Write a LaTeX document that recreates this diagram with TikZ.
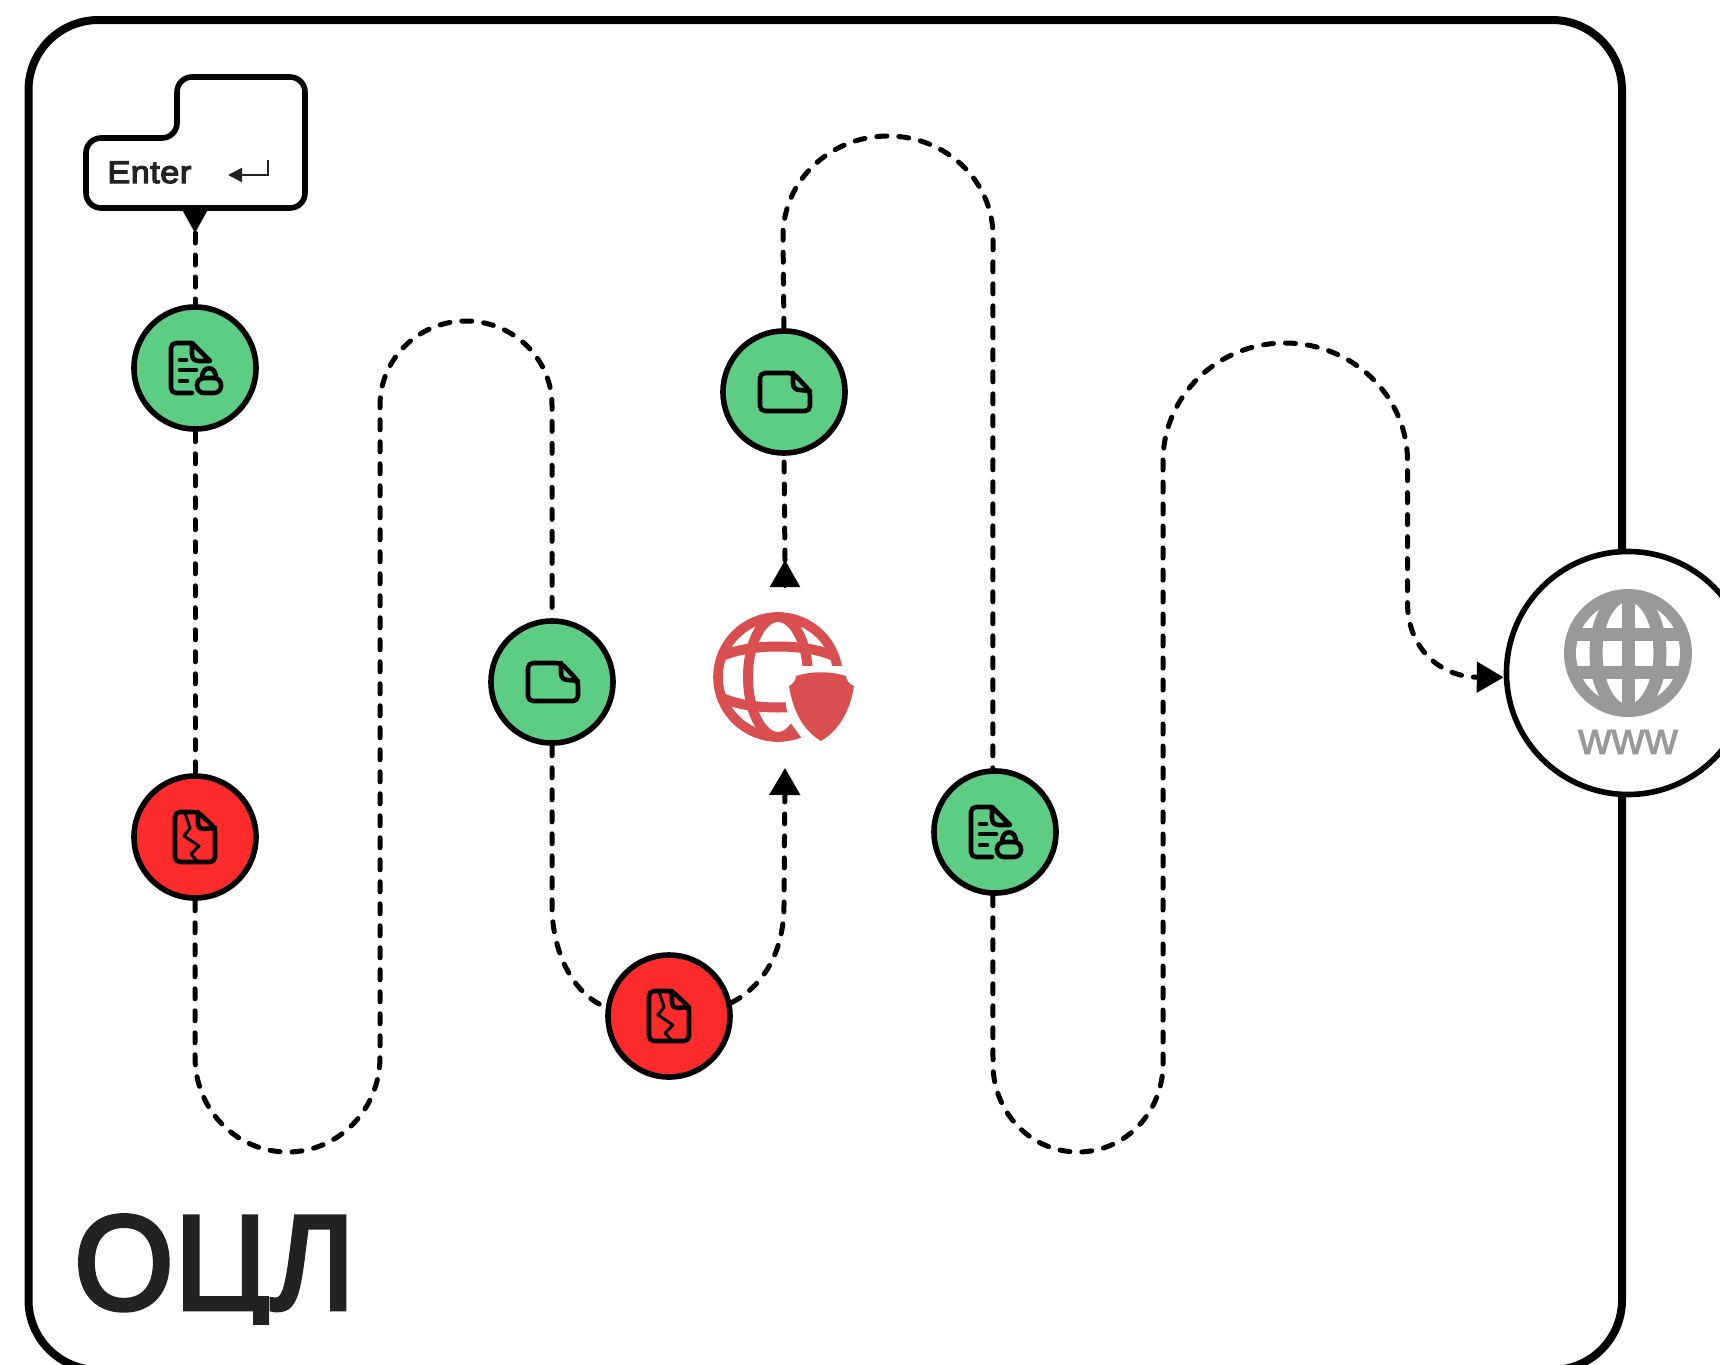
\documentclass[tikz,border=0pt]{standalone}
\usepackage{fontspec}
\setmainfont{Liberation Sans}
\newfontfamily\heavyfont[FakeBold=3.5,FakeStretch=0.95,LetterSpace=1.2]{Liberation Sans}
\newfontfamily\midfont[FakeBold=4,FakeStretch=1.1,LetterSpace=1.5]{Liberation Sans}
\newfontfamily\lightfont[FakeBold=1.8,FakeStretch=1.02]{Liberation Sans}
\usetikzlibrary{arrows.meta}
\definecolor{okgreen}{HTML}{5DCD84}
\definecolor{badred}{HTML}{FF2B2B}
\definecolor{shieldred}{HTML}{D94F4F}
\definecolor{wwwgray}{HTML}{999999}
\definecolor{inkdark}{HTML}{222222}
\tikzset{
  stage/.style={circle,draw=black,line width=2.8pt,minimum size=61pt,inner sep=0pt},
  okstage/.style={stage,fill=okgreen},
  badstage/.style={stage,fill=badred},
  dashline/.style={draw=black,line width=2.5pt,line cap=round,dash pattern=on 5pt off 6pt},
  bigtip/.style={-{Triangle[length=13.5pt,width=15pt]}},
  icon/.style={draw=black,line width=2.3pt,line join=round,line cap=round},
  pics/docplain/.style={code={
    \draw[icon,rounded corners=2.5pt] (9,-19) -- (-24,-19) -- (-24,19) -- (26,19) -- (26,-1) -- cycle;
    \draw[icon] (9,-19) -- (9,-9) .. controls (9,-4) and (12,-2) .. (16,-2) -- (26,-1);
  }},
  pics/docbroken/.style={code={
    \draw[icon,rounded corners=2.5pt] (3,-25) -- (-20,-25) -- (-20,25) -- (20,25) -- (20,-9) -- cycle;
    \draw[icon] (3,-25) -- (3,-13) .. controls (3,-10) and (5,-8) .. (8,-8) -- (20,-9);
    \draw[icon,line width=1.5pt,line cap=butt] (-10,-24) -- (-5,-9) -- (-11,-1) -- (4,9) -- (-4,17) -- (2,24);
  }},
  pics/doclock/.style={code={
    \draw[icon,rounded corners=2.5pt] (-3,25) -- (-24,25) -- (-24,-25) -- (-3,-25);
    \draw[icon] (-3,-25) -- (15,-7) -- (4,-7) .. controls (-1,-7) and (-3,-10) .. (-3,-14) -- cycle;
    \draw[icon] (-15,-8) -- (-9,-8) (-15,2) -- (1,2) (-15,13) -- (-8,13);
    \draw[icon,rounded corners=3.5pt] (2,10) rectangle (26,25);
    \draw[icon] (7,10) .. controls (7,-3) and (21,-3) .. (21,10);
  }},
}
\begin{document}
\begin{tikzpicture}[x=0.5pt,y=-0.5pt]
\useasboundingbox (0,0) rectangle (1720,1365);
\clip (0,0) rectangle (1720,1365);
\fill[white] (0,0) rectangle (1720,1365);
% frame
\draw[black,line width=4pt,rounded corners=35pt] (28.5,20) rectangle (1622,1370);
% enter key
\draw[black,fill=white,line width=2.8pt,rounded corners=7.5pt]
  (86,138) -- (177,138) -- (177,77) -- (305,77) -- (305,208) -- (86,208) -- cycle;
\node[anchor=base west,inner sep=0pt,text=inkdark,font=\midfont\fontsize{15.6pt}{16pt}\selectfont] (entertext) at (107,183) {Enter};
\draw[inkdark,line width=1.2pt,-{Triangle[length=7pt,width=7pt]}] (268,160) -- (268,175) -- (228,175);
\coordinate (keybase) at (195,209);
\coordinate (keytip) at (195,233);
% stages
\node[okstage] (g1) at (195,368) {};
\node[badstage] (r1) at (195,837) {};
\node[okstage] (g2) at (552,682) {};
\node[badstage] (r2) at (669,1016) {};
\node[okstage] (g3) at (784,392) {};
\node[okstage] (g4) at (995,832) {};
\pic at (g1) {doclock};
\pic at (r1) {docbroken};
\pic at (g2) {docplain};
\pic at (r2) {docbroken};
\pic at (g3) {docplain};
\pic at (g4) {doclock};
% www
\node[circle,draw=black,fill=white,line width=2.8pt,minimum size=121.5pt,inner sep=0pt] (www) at (1628,673) {};
\begin{scope}[shift={(1628,653)}]
  \fill[wwwgray] (0,0) circle[radius=32pt];
  \fill[white] (0,0) circle[radius=26pt];
  \begin{scope}
    \clip (0,0) circle[radius=30pt];
    \draw[wwwgray,line width=6.5pt] (0,0) ellipse[x radius=32,y radius=58];
    \draw[wwwgray,line width=6.5pt] (0,-60) -- (0,60) (-60,-19) -- (60,-19) (-60,19) -- (60,19);
  \end{scope}
\end{scope}
\node[inner sep=0pt,text=wwwgray,font=\lightfont\fontsize{22.5pt}{24pt}\selectfont] (wwwtext) at (1628,742) {www};
% secure globe
\begin{scope}[shift={(778,677)}]
  \draw[shieldred,line width=4.8pt] (0,0) circle[radius=30pt];
  \draw[shieldred,line width=5pt] (0,0) ellipse[x radius=30,y radius=60];
  \draw[shieldred,line width=5pt] (-58,-20) .. controls (-30,-34) and (30,-34) .. (58,-20);
  \draw[shieldred,line width=5pt] (-58,20) .. controls (-30,34) and (30,34) .. (58,20);
  \fill[white] (5,-11) -- (75,-11) -- (75,75) -- (23,60) -- (12,45) -- (8,29) -- (8,20) -- cycle;
  \fill[shieldred] (18,-1) .. controls (34,-6) and (52,-6) .. (68,-1)
    .. controls (68,3) and (71,7) .. (76,9)
    .. controls (72,35) and (60,54) .. (43,64)
    .. controls (26,54) and (15,35) .. (11,9)
    .. controls (15,7) and (18,3) .. (18,-1) -- cycle;
\end{scope}
\coordinate (upbase) at (785,587);
\coordinate (uptip) at (785,560);
\coordinate (inbound) at (785,768);
% connectors
\draw[-{Triangle[length=12pt,width=13pt]},line width=1pt] (keybase) -- (keytip);
\draw[dashline] (keytip) -- (g1.north);
\draw[dashline] (g1.south) -- (r1.north);
\draw[dashline] (r1.south) -- (195,1057)
  .. controls (195,1109.5) and (236.4,1152) .. (287.5,1152)
  .. controls (338.6,1152) and (380,1109.5) .. (380,1057)
  -- (380,405)
  .. controls (380,359) and (418.5,321) .. (466,321)
  .. controls (513.5,321) and (552,359) .. (552,405)
  -- (g2.north);
\draw[dashline] (g2.south) -- (552,905)
  .. controls (552,955) and (575,995) .. (r2.172);
\draw[dashline,bigtip] (r2.12)
  .. controls (765,985) and (784,950) .. (784,905) -- (inbound);
\draw[line width=1pt,bigtip] (upbase) -- (uptip);
\draw[dashline] (uptip) -- (g3.south);
\draw[dashline] (g3.north) -- (783,236)
  .. controls (783,181) and (830,136) .. (888,136)
  .. controls (946,136) and (993,181) .. (993,236)
  -- (g4.92);
\draw[dashline,bigtip] (g4.268) -- (993,1064)
  .. controls (993,1112.6) and (1031,1152) .. (1078,1152)
  .. controls (1125,1152) and (1163,1112.6) .. (1163,1064)
  -- (1163,461)
  .. controls (1163,396) and (1217.6,343) .. (1285,343)
  .. controls (1352.4,343) and (1407.5,396) .. (1407.5,461)
  -- (1407.5,603)
  .. controls (1407.5,648) and (1440,677) .. (www.182);
% title
\begin{scope}
\clip (40,1190) rectangle (400,1324);
\node[anchor=base west,inner sep=0pt,text=inkdark,font=\heavyfont\fontsize{67pt}{69pt}\selectfont] (title) at (74,1309) {ОЦЛ};
\end{scope}
\end{tikzpicture}
\end{document}
